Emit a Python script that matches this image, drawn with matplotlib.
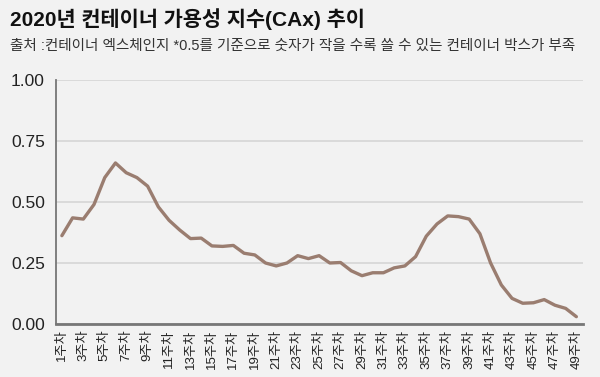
import matplotlib
matplotlib.use('Agg')
import matplotlib.pyplot as plt
import numpy as np

plt.rcParams['font.family'] = ['Liberation Sans', 'Noto Sans CJK KR', 'DejaVu Sans']

# 주차별 컨테이너 가용성 지수
weeks = list(range(1, 50))
cax = [0.362, 0.435, 0.43, 0.49, 0.60, 0.66, 0.62, 0.60, 0.565, 0.48,
       0.425, 0.385, 0.35, 0.352, 0.32, 0.318, 0.322, 0.29, 0.283, 0.25,
       0.238, 0.25, 0.28, 0.268, 0.28, 0.25, 0.252, 0.218, 0.198, 0.21,
       0.21, 0.23, 0.238, 0.276, 0.36, 0.41, 0.443, 0.44, 0.43, 0.37,
       0.25, 0.16, 0.105, 0.085, 0.087, 0.10, 0.077, 0.064, 0.03]
tick_weeks = weeks[::2]
tick_labels = [f'{w}주차' for w in tick_weeks]
yticks = [0.0, 0.25, 0.5, 0.75, 1.0]

bg = '#f2f2f2'
fig = plt.figure(figsize=(6, 3.77), dpi=100, facecolor=bg)
ax = fig.add_axes([0.0933, 0.1406, 0.878, 0.6472], facecolor=bg)

ax.plot(weeks, cax, color='#9a7d70', linewidth=2.4, solid_joinstyle='round',
        solid_capstyle='round', zorder=3)

ax.set_ylim(0, 1.0)
ax.set_xlim(0.45, 49.6)
ax.set_yticks(yticks)
ax.set_yticklabels([f'{v:.2f}' for v in yticks], fontsize=12.5, color='#222222')
ax.set_xticks(tick_weeks)
ax.set_xticklabels(tick_labels, rotation=90, fontsize=9.5, color='#222222')
ax.tick_params(axis='both', length=0)
ax.tick_params(axis='y', pad=8)
ax.tick_params(axis='x', pad=4)

ax.grid(axis='y', color='#d6d6d6', linewidth=1.2)
ax.set_axisbelow(True)
for s in ['top', 'right']:
    ax.spines[s].set_visible(False)
ax.spines['left'].set_color('#777777')
ax.spines['left'].set_linewidth(1.3)
ax.spines['bottom'].set_color('#777777')
ax.spines['bottom'].set_linewidth(2)

fig.text(0.017, 0.95, '2020년 컨테이너 가용성 지수(CAx) 추이', fontsize=15,
         fontweight='bold', va='center', ha='left', color='#111111')
fig.text(0.017, 0.877, '출처 :컨테이너 엑스체인지 *0.5를 기준으로 숫자가 작을 수록 쓸 수 있는 컨테이너 박스가 부족',
         fontsize=10.5, va='center', ha='left', color='#333333')

fig.savefig('out.png', dpi=100, facecolor=bg)
